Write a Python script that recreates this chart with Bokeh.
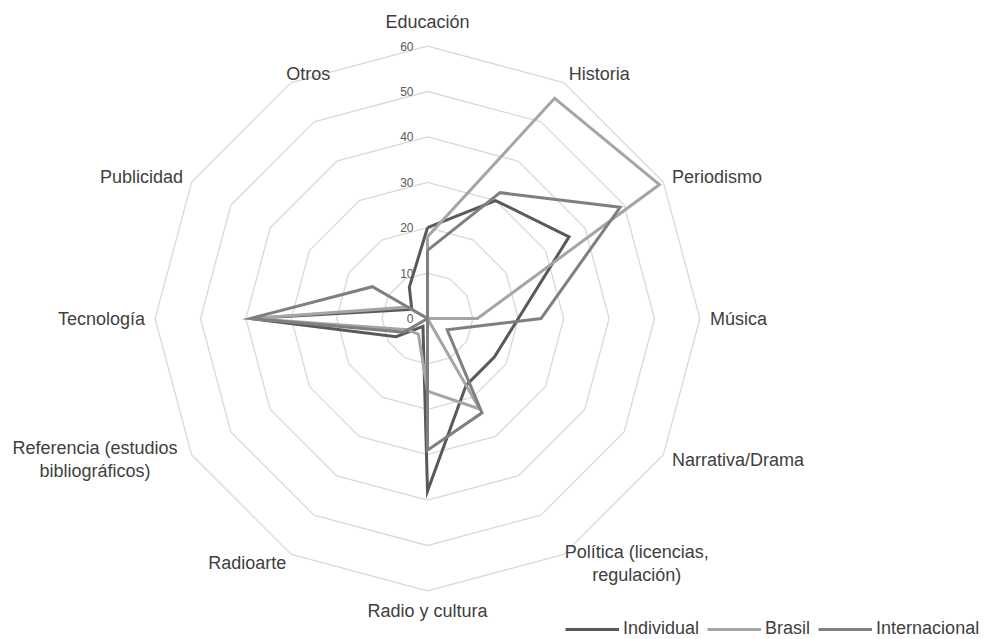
import numpy as np
from bokeh.plotting import figure
from bokeh.models import ColumnDataSource, Legend, LegendItem, Range1d
from bokeh.embed import file_html
from bokeh.resources import INLINE
from bokeh.core.properties import value

categories = ["Educación", "Historia", "Periodismo", "Música", "Narrativa/Drama",
              "Política (licencias,\nregulación)", "Radio y cultura", "Radioarte",
              "Referencia (estudios\nbibliográficos)", "Tecnología", "Publicidad", "Otros"]
individual = [20, 30, 36, 20, 17, 17, 38, 2, 8, 39, 4, 8]
brasil = [18, 56, 59, 11, 0, 23, 16, 4, 5, 39, 5, 0]
internacional = [15, 32, 49, 25, 5, 24, 29, 0, 6, 39, 14, 0]
series_names = ["Individual", "Brasil", "Internacional"]
series_colors = ["#595959", "#A5A5A5", "#7F7F7F"]
ticks = [0, 10, 20, 30, 40, 50, 60]

W, H = 986, 639
scale = 4.54          # px per value unit
cx, cy = 427, 318     # centre in canvas px

p = figure(width=W, height=H, output_backend="svg", toolbar_location=None,
           x_range=Range1d(-cx / scale, (W - cx) / scale),
           y_range=Range1d(-(H - cy) / scale, cy / scale),
           x_axis_location=None, y_axis_location=None, min_border=0,
           outline_line_color=None, background_fill_color="white")
p.grid.visible = False

n = len(categories)
ang = np.deg2rad(90 - 360.0 / n * np.arange(n))
ca, sa = np.cos(ang), np.sin(ang)

# grid rings
rx, ry = [], []
for t in ticks[1:]:
    rx.append(list(np.append(t * ca, t * ca[0])))
    ry.append(list(np.append(t * sa, t * sa[0])))
p.multi_line(rx, ry, line_color="#D9D9D9", line_width=1.3)

# series
rends = []
for name, vals, col in zip(series_names, [individual, brasil, internacional], series_colors):
    v = np.array(vals, dtype=float)
    xs = np.append(v * ca, v[0] * ca[0])
    ys = np.append(v * sa, v[0] * sa[0])
    r = p.line(xs, ys, line_color=col, line_width=3, line_join="miter")
    rends.append(r)

# tick labels
p.text(x=[0] * len(ticks), y=ticks, text=[str(t) for t in ticks], x_offset=-14,
       text_align="right", text_baseline="middle", text_font=value("Liberation Sans"),
       text_font_size="12px", text_color="#595959")

# category labels
rmax = ticks[-1]
pad = 10 / scale
lx, ly, al, bl, xo, yo = [], [], [], [], [], []
for i, c in enumerate(categories):
    lx.append((rmax + pad) * ca[i])
    ly.append((rmax + pad) * sa[i])
    offx, offy = 0, 0
    if abs(ca[i]) < 0.01:
        a = "center"
        b = "bottom" if sa[i] > 0 else "top"
        offy = -4 if sa[i] > 0 else 0
    elif ca[i] > 0 or (sa[i] > 0.8):
        a, b = "left", "middle"
    else:
        a, b = "right", "middle"
    if "\n" in c:
        offx = 68 if ca[i] > 0 else -88
        a = "center"
    al.append(a); bl.append(b); xo.append(offx); yo.append(offy)
src = ColumnDataSource(dict(x=lx, y=ly, text=categories, align=al, base=bl, xo=xo, yo=yo))
p.text(x="x", y="y", text="text", source=src, text_align="align", text_baseline="base",
       x_offset="xo", y_offset="yo", text_font=value("Liberation Sans"), text_font_size="18px",
       text_color="#404040", text_line_height=1.15)

legend = Legend(items=[LegendItem(label=nm, renderers=[r]) for nm, r in zip(series_names, rends)],
                orientation="horizontal", location=(565, 0), glyph_width=54, glyph_height=18,
                label_standoff=4, spacing=8, padding=0, margin=0,
                border_line_alpha=0, background_fill_alpha=0,
                label_text_font="Liberation Sans", label_text_font_size="18px",
                label_text_color="#404040")
p.add_layout(legend)

open("out.html", "w").write(file_html(p, INLINE))
